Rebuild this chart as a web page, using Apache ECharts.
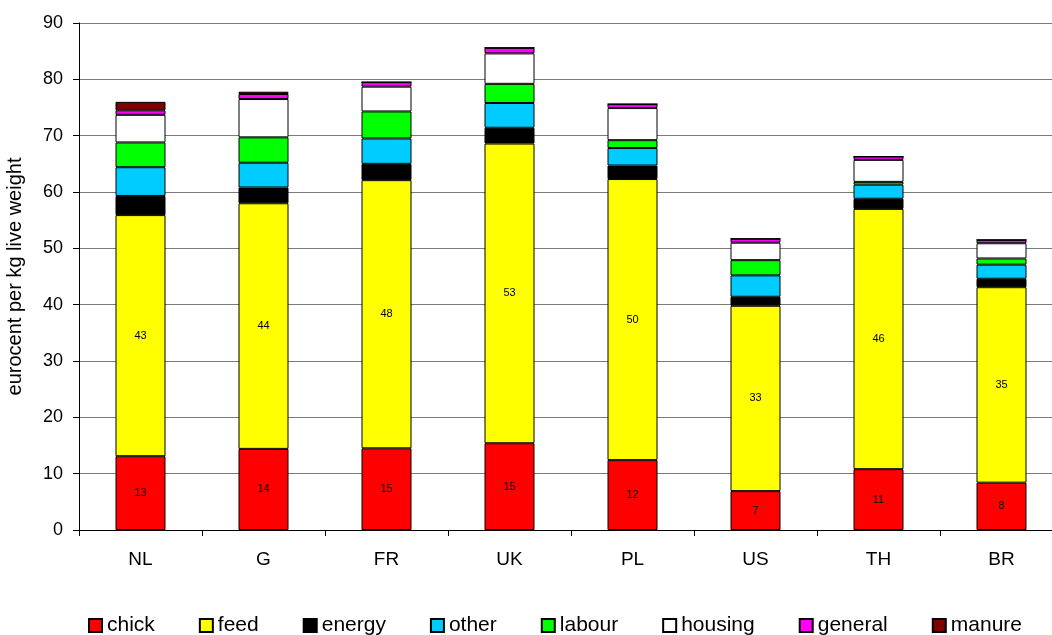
<!DOCTYPE html>
<html>
<head>
<meta charset="utf-8">
<script src="https://cdn.jsdelivr.net/npm/echarts@6/dist/echarts.min.js"></script>
<style>
html,body{margin:0;padding:0;background:#fff;}
#chart{width:1052px;height:635px;}
</style>
</head>
<body>
<div id="chart"></div>
<script>
const categories = ['NL', 'G', 'FR', 'UK', 'PL', 'US', 'TH', 'BR'];
const chick   = [13.1, 14.4, 14.5, 15.4, 12.4, 6.9, 10.8, 8.4];
const feed    = [42.8, 43.6, 47.6, 53.2, 49.9, 32.9, 46.2, 34.7];
const energy  = [3.4, 2.8, 2.9, 2.8, 2.4, 1.6, 1.8, 1.5];
const other   = [5.1, 4.4, 4.5, 4.4, 3.1, 3.8, 2.5, 2.5];
const labour  = [4.4, 4.5, 4.8, 3.4, 1.4, 2.7, 0.5, 1.1];
const housing = [4.9, 6.8, 4.4, 5.4, 5.7, 3.1, 3.9, 2.7];
const general = [0.8, 0.9, 0.8, 1.0, 0.7, 0.7, 0.6, 0.6];
const manure  = [1.5, 0.4, 0, 0, 0, 0, 0, 0];
const yTicks = [0, 10, 20, 30, 40, 50, 60, 70, 80, 90];

const FONT = '"Liberation Sans", Arial, sans-serif';
const seriesDefs = [
  ['chick', chick, '#FF0000', true],
  ['feed', feed, '#FFFF00', true],
  ['energy', energy, '#000000', false],
  ['other', other, '#00CCFF', false],
  ['labour', labour, '#00FF00', false],
  ['housing', housing, '#FFFFFF', false],
  ['general', general, '#FF00FF', false],
  ['manure', manure, '#800000', false]
];

const chart = echarts.init(document.getElementById('chart'));
chart.setOption({
  animation: false,
  textStyle: { fontFamily: FONT },
  grid: { left: 79, top: 23, width: 984, height: 507, outerBoundsMode: 'none', containLabel: false },
  legend: {
    left: 83, top: 610,
    itemWidth: 13, itemHeight: 13, itemGap: 44,
    icon: 'rect',
    textStyle: { fontSize: 21, color: '#000', fontFamily: FONT },
    data: seriesDefs.map(s => s[0])
  },
  xAxis: {
    type: 'category',
    data: categories,
    axisLine: { lineStyle: { color: '#000', width: 1 } },
    axisTick: { show: true, length: 6, lineStyle: { color: '#000' } },
    axisLabel: { fontSize: 19, color: '#000', margin: 20, fontFamily: FONT }
  },
  yAxis: {
    type: 'value',
    min: yTicks[0], max: yTicks[yTicks.length - 1], interval: 10,
    name: 'eurocent per kg live weight',
    nameLocation: 'middle',
    nameGap: 54,
    nameTextStyle: { fontSize: 20, color: '#000', fontFamily: FONT },
    axisLine: { show: true, lineStyle: { color: '#000', width: 1 } },
    axisTick: { show: true, length: 6, lineStyle: { color: '#000' } },
    axisLabel: { fontSize: 18, color: '#000', margin: 16, fontFamily: FONT },
    splitLine: { show: true, lineStyle: { color: '#7a7a7a', width: 1 } }
  },
  series: seriesDefs.map(([name, data, color, lab]) => ({
    name: name,
    type: 'bar',
    stack: 'total',
    barWidth: 50,
    data: data,
    itemStyle: { color: color, borderColor: '#000', borderWidth: 1 },
    label: {
      show: lab,
      position: 'inside',
      fontSize: 11,
      color: '#000',
      fontFamily: FONT,
      formatter: p => String(Math.round(p.value))
    }
  }))
});
</script>
</body>
</html>
